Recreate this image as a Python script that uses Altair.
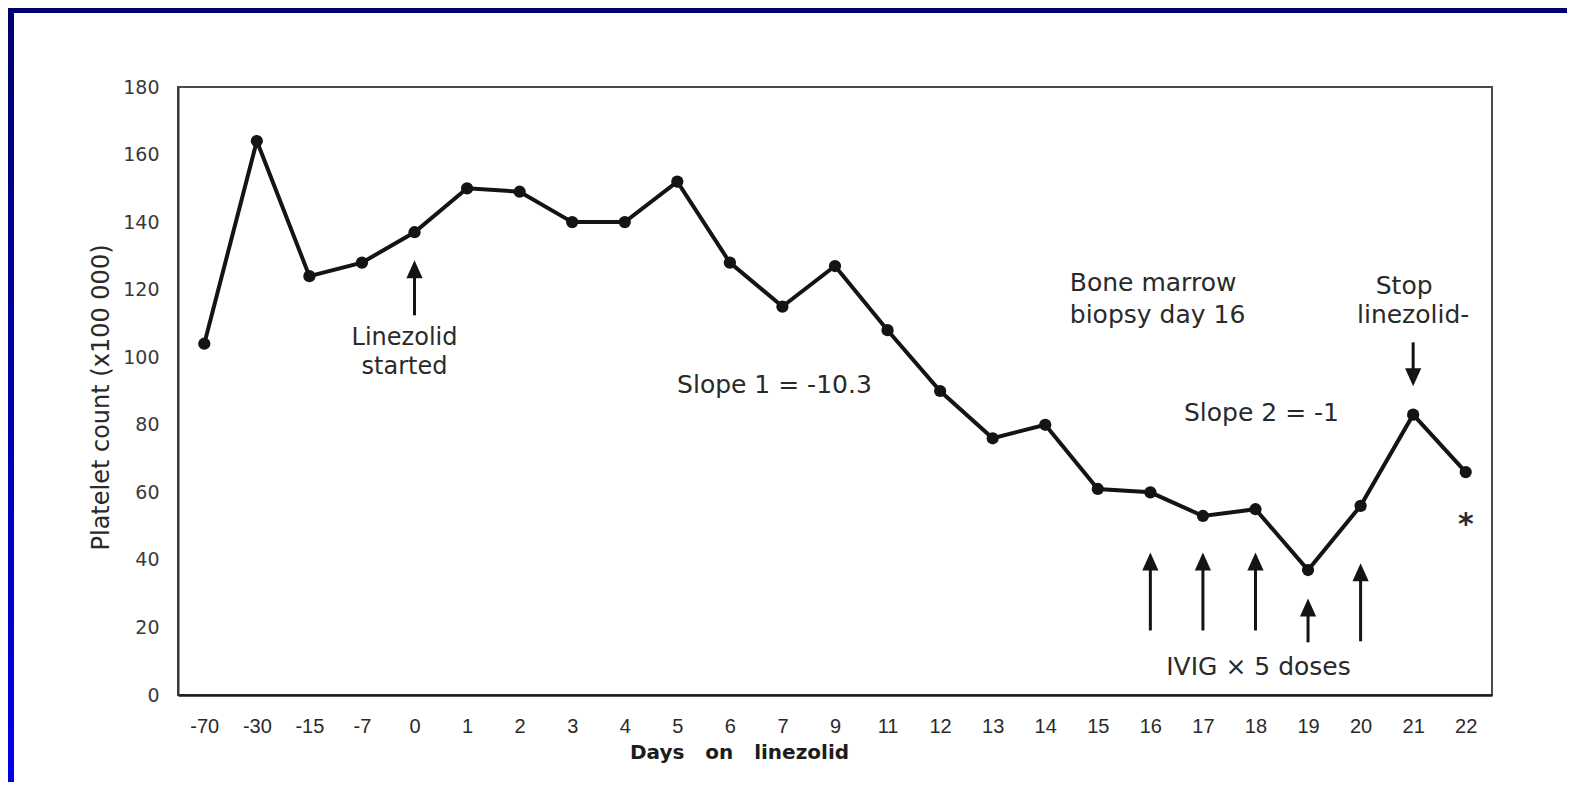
import altair as alt
import pandas as pd

# ---------------- data ----------------
days = ["-70", "-30", "-15", "-7", "0", "1", "2", "3", "4", "5", "6", "7", "9",
        "11", "12", "13", "14", "15", "16", "17", "18", "19", "20", "21", "22"]
platelets = [104, 164, 124, 128, 137, 150, 149, 140, 140, 152, 128, 115, 127,
             108, 90, 76, 80, 61, 60, 53, 55, 37, 56, 83, 66]
y_ticks = [0, 20, 40, 60, 80, 100, 120, 140, 160, 180]

# arrows pointing up (Linezolid started, IVIG doses)
up_arrow_days = ["0", "16", "17", "18", "19", "20"]
up_arrow_tips = [128.7, 42.2, 42.2, 42.2, 28.6, 39.0]
up_arrow_tails = [112.4, 19.1, 19.1, 19.1, 15.6, 15.9]

# arrow pointing down (Stop linezolid)
down_arrow_days = ["21"]
down_arrow_tips = [91.4]
down_arrow_tails = [104.4]

note_texts = ["Linezolid", "started", "Slope 1 = -10.3", "Bone marrow",
              "biopsy day 16", "Slope 2 = -1", "Stop", "linezolid-",
              "IVIG \u00d7 5 doses"]
note_days = ["0", "0", "7", "15", "15", "18", "21", "21", "18"]
note_values = [105.6, 97.2, 91.7, 121.9, 112.4, 83.6, 121.2, 112.4, 8.2]

star_days = ["22"]
star_values = [52.6]

# ---------------- layout / style ----------------
W, H = 1314, 608
PAD = {"left": 170, "top": 79, "right": 75, "bottom": 87}
INK = "#141414"
TEXT = "#2a2a2a"
FONT = "DejaVu Sans"

note_dx = {"Linezolid": -10, "started": -10, "Slope 1 = -10.3": -8,
           "Bone marrow": -28, "biopsy day 16": -28, "Slope 2 = -1": 6,
           "Stop": -9, "linezolid-": 0, "IVIG \u00d7 5 doses": 3}
note_align = {"Bone marrow": "left", "biopsy day 16": "left"}
note_size = {"Linezolid": 24, "started": 24}

x_scale = alt.Scale(domain=days, type="point", padding=0.5)
y_scale = alt.Scale(domain=[0, 180], nice=False, zero=True)

x_axis = alt.Axis(
    title="Days\u00a0\u00a0\u00a0on\u00a0\u00a0\u00a0linezolid",
    labelAngle=0, ticks=False, grid=False,
    labelFont="Liberation Sans", labelFontSize=20, labelColor=TEXT,
    labelPadding=21, domainColor="#1c1c1c", domainWidth=2.5,
    titleFont=FONT, titleFontSize=20, titleFontWeight="bold",
    titleColor="#1c1c1c", titleX=561, titleY=57,
    titleBaseline="middle", titleAlign="center",
)
y_axis = alt.Axis(
    title="Platelet count (x100 000)", values=y_ticks,
    ticks=False, grid=False, labelFlush=False, labelOverlap=False,
    labelFont=FONT, labelFontSize=19, labelColor="#3a3a3a",
    labelPadding=19, domainColor="#333333", domainWidth=2,
    titleFont=FONT, titleFontSize=24, titleFontWeight="normal",
    titleColor=TEXT, titleX=-77, titleY=310, titleAngle=270,
    titleBaseline="middle", titleAlign="center",
)


def xenc():
    return alt.X("day:O", scale=x_scale, sort=days, axis=x_axis)


def yenc(field):
    return alt.Y(f"{field}:Q", scale=y_scale, axis=y_axis)


main_df = pd.DataFrame({"day": days, "val": platelets})
up_df = pd.DataFrame({"day": up_arrow_days, "tip": up_arrow_tips, "tail": up_arrow_tails})
down_df = pd.DataFrame({"day": down_arrow_days, "tip": down_arrow_tips, "tail": down_arrow_tails})
notes_df = pd.DataFrame({"day": note_days, "val": note_values, "label": note_texts})
star_df = pd.DataFrame({"day": star_days, "val": star_values})
deco_df = pd.DataFrame({"k": [0]})

# slide border strips (navy top, navy->blue left)
left_grad = alt.LinearGradient(
    gradient="linear",
    stops=[alt.GradientStop(offset=0, color="#00006a"),
           alt.GradientStop(offset=1, color="#0000e8")],
    x1=0, x2=0, y1=0, y2=1,
)
left_strip = alt.Chart(deco_df).mark_rect(fill=left_grad).encode(
    x=alt.value(-PAD["left"]), x2=alt.value(-PAD["left"] + 6),
    y=alt.value(-PAD["top"]), y2=alt.value(H + PAD["bottom"]),
)
top_strip = alt.Chart(deco_df).mark_rect(fill="#00006a").encode(
    x=alt.value(-PAD["left"]), x2=alt.value(W + PAD["right"]),
    y=alt.value(-PAD["top"]), y2=alt.value(-PAD["top"] + 5),
)

line = alt.Chart(main_df).mark_line(color=INK, strokeWidth=4).encode(
    x=xenc(), y=yenc("val")
)
points = alt.Chart(main_df).mark_circle(color=INK, size=150, opacity=1).encode(
    x=xenc(), y=yenc("val")
)

up_shaft = alt.Chart(up_df).transform_calculate(
    shaft_end="datum.tip - 3"
).mark_rule(color=INK, strokeWidth=3).encode(
    x=xenc(), y=yenc("tail"), y2="shaft_end:Q"
)
up_head = alt.Chart(up_df).mark_point(
    shape="M0,0L0.9,2L-0.9,2Z", filled=True, size=324, color=INK, opacity=1
).encode(x=xenc(), y=yenc("tip"))

down_shaft = alt.Chart(down_df).transform_calculate(
    shaft_end="datum.tip + 3"
).mark_rule(color=INK, strokeWidth=3).encode(
    x=xenc(), y=yenc("tail"), y2="shaft_end:Q"
)
down_head = alt.Chart(down_df).mark_point(
    shape="M0,0L0.9,-2L-0.9,-2Z", filled=True, size=324, color=INK, opacity=1
).encode(x=xenc(), y=yenc("tip"))

note_layers = []
for t in note_texts:
    note_layers.append(
        alt.Chart(notes_df).transform_filter(alt.datum.label == t).mark_text(
            font=FONT, fontSize=note_size.get(t, 25), color=TEXT,
            baseline="middle", align=note_align.get(t, "center"),
            dx=note_dx.get(t, 0),
        ).encode(x=xenc(), y=yenc("val"), text="label:N")
    )

star = alt.Chart(star_df).mark_text(
    text="*", font=FONT, fontSize=30, fontWeight="bold", color=TEXT,
    baseline="middle", align="center", dy=8,
).encode(x=xenc(), y=yenc("val"))

chart = alt.layer(
    left_strip, top_strip, line, points, up_shaft, up_head, down_shaft,
    down_head, *note_layers, star
).properties(
    width=W, height=H, padding=PAD,
    autosize=alt.AutoSizeParams(type="none"), background="white",
).configure_view(stroke="#4a4a4a", strokeWidth=2)

chart.save("out.html", embed_options={"renderer": "svg", "actions": False})
